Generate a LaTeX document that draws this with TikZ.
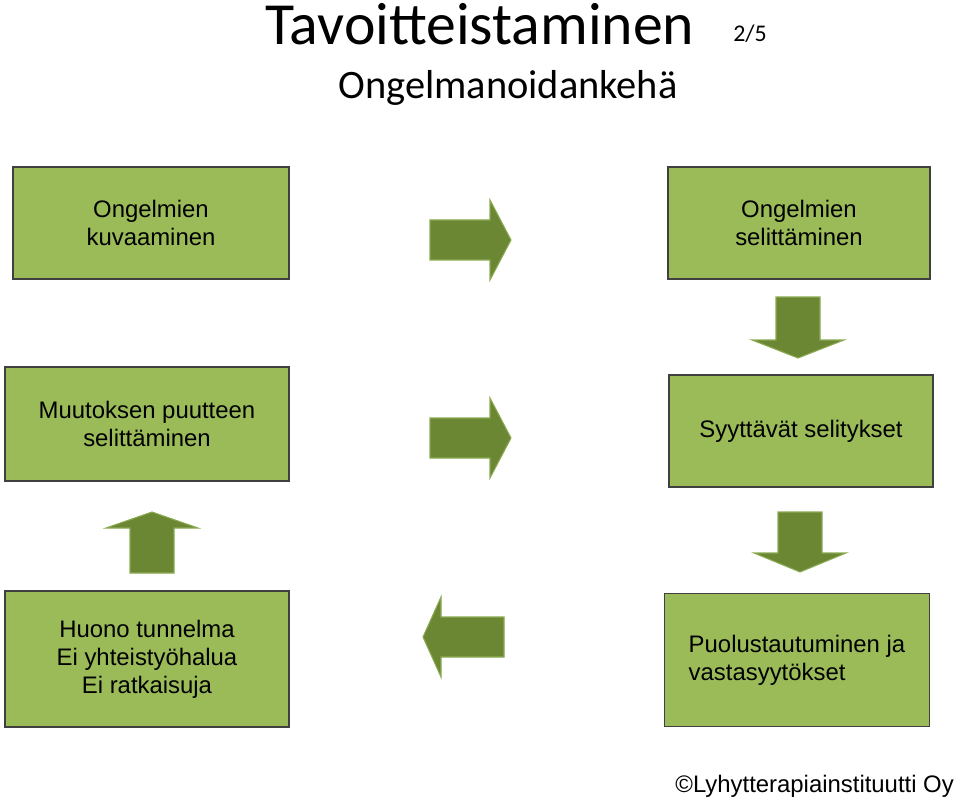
\documentclass[tikz,border=0pt]{standalone}
\usepackage{fontspec}
\setmainfont{Liberation Sans}
\newfontfamily\titlefont{Carlito}
\usetikzlibrary{positioning}
\definecolor{boxgreen}{HTML}{9BBB59}
\definecolor{arrowgreen}{HTML}{6B8734}
\definecolor{arrowedge}{HTML}{8AAA50}
\tikzset{
  stepbox/.style={draw=black!75,line width=0.8pt,fill=boxgreen,align=center,
    font=\fontsize{13.6}{16}\selectfont},
  bigarrow/.style={fill=arrowgreen,draw=arrowedge,line width=0.6pt}
}
\begin{document}
\begin{tikzpicture}[x=0.02cm,y=-0.02cm]
\useasboundingbox (0,0) rectangle (960,804);
% title
\node (title) at (480,24) {\titlefont\fontsize{34}{40}\selectfont Tavoitteistaminen};
\node (page) at (750,34) {\titlefont\fontsize{13.6}{16}\selectfont 2/5};
\node (sub) at (508,88) {\titlefont\fontsize{23}{28}\selectfont Ongelmanoidankehä};
% boxes
\node (b1) at (151,223) [stepbox,minimum width=276\pgflinewidth,minimum width=5.52cm,minimum height=2.24cm] {Ongelmien\\kuvaaminen};
\node (b2) at (799,223) [stepbox,minimum width=5.24cm,minimum height=2.24cm] {Ongelmien\\selittäminen};
\node (b3) at (147,424) [stepbox,minimum width=5.68cm,minimum height=2.28cm] {Muutoksen puutteen\\selittäminen};
\node (b4) at (801,431) [stepbox,minimum width=5.28cm,minimum height=2.24cm] {Syyttävät selitykset};
\node (b5) at (147,659) [stepbox,minimum width=5.68cm,minimum height=2.72cm] {Huono tunnelma\\Ei yhteistyöhalua\\Ei ratkaisuja};
\node (b6) at (797,660) [stepbox,minimum width=5.3cm,minimum height=2.66cm,align=left] {Puolustautuminen ja\\vastasyytökset};
% arrows
\draw[bigarrow] (430,220) -- (490,220) -- (490,200) -- (511,240) -- (490,280) -- (490,260) -- (430,260) -- cycle;
\draw[bigarrow] (430,418) -- (490,418) -- (490,398) -- (511,438) -- (490,478) -- (490,458) -- (430,458) -- cycle;
\draw[bigarrow] (776,297) -- (820,297) -- (820,340) -- (844,340) -- (798,358) -- (752,340) -- (776,340) -- cycle;
\draw[bigarrow] (778,512) -- (822,512) -- (822,553) -- (846,553) -- (800,572) -- (754,553) -- (778,553) -- cycle;
\draw[bigarrow] (130,573) -- (174,573) -- (174,528) -- (198,528) -- (152,512) -- (106,528) -- (130,528) -- cycle;
\draw[bigarrow] (504,617) -- (441,617) -- (441,597) -- (423,637) -- (441,677) -- (441,657) -- (504,657) -- cycle;
% footer
\node (copy) [anchor=east] at (960,786) {\fontsize{13.6}{16}\selectfont ©Lyhytterapiainstituutti Oy};
\end{tikzpicture}
\end{document}
